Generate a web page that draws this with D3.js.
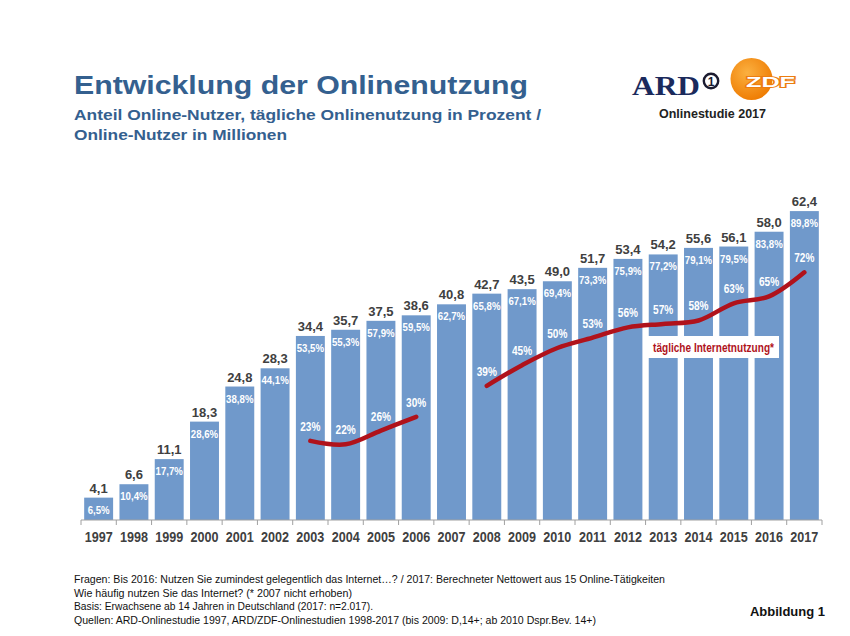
<!DOCTYPE html>
<html><head><meta charset="utf-8">
<script src="https://cdn.jsdelivr.net/npm/d3@7"></script>
<style>
html,body{margin:0;padding:0;background:#fff;}
svg{display:block;}
</style></head>
<body>
<svg id="chart" width="850" height="636"></svg>
<script>
const years = ["1997","1998","1999","2000","2001","2002","2003","2004","2005","2006","2007","2008","2009","2010","2011","2012","2013","2014","2015","2016","2017"];
const usersMillions = ["4,1","6,6","11,1","18,3","24,8","28,3","34,4","35,7","37,5","38,6","40,8","42,7","43,5","49,0","51,7","53,4","54,2","55,6","56,1","58,0","62,4"];
const sharePercent = [6.5,10.4,17.7,28.6,38.8,44.1,53.5,55.3,57.9,59.5,62.7,65.8,67.1,69.4,73.3,75.9,77.2,79.1,79.5,83.8,89.8];
const dailyUse = [null,null,null,null,null,null,23,22,26,30,null,39,45,50,53,56,57,58,63,65,72];
const footerLines = [
  "Fragen: Bis 2016: Nutzen Sie zumindest gelegentlich das Internet…?  / 2017: Berechneter Nettowert aus 15 Online-Tätigkeiten",
  "Wie häufig nutzen Sie das Internet? (* 2007 nicht erhoben)",
  "Basis: Erwachsene ab 14 Jahren in Deutschland (2017: n=2.017).",
  "Quellen: ARD-Onlinestudie 1997, ARD/ZDF-Onlinestudien 1998-2017 (bis 2009: D,14+; ab 2010 Dspr.Bev. 14+)"
];

const svg = d3.select("#chart");
const fmtPct = v => String(v).replace(".", ",") + "%";
const sans = "'Liberation Sans',Arial,sans-serif";
const NARROW = 0.84;

// Title
svg.append("text").attr("x",74).attr("y",94).attr("font-family",sans).attr("font-weight","bold")
  .attr("font-size",25).attr("fill","#34608f").attr("textLength",454).attr("lengthAdjust","spacingAndGlyphs")
  .text("Entwicklung der Onlinenutzung");
svg.append("text").attr("x",74).attr("y",119.5).attr("font-family",sans).attr("font-weight","bold")
  .attr("font-size",14).attr("fill","#34608f").attr("textLength",467).attr("lengthAdjust","spacingAndGlyphs")
  .text("Anteil Online-Nutzer, tägliche Onlinenutzung in Prozent /");
svg.append("text").attr("x",74).attr("y",139.5).attr("font-family",sans).attr("font-weight","bold")
  .attr("font-size",14).attr("fill","#34608f").attr("textLength",213).attr("lengthAdjust","spacingAndGlyphs")
  .text("Online-Nutzer in Millionen");

// Logo
const logo = svg.append("g");
logo.append("text").attr("x",632).attr("y",94.5).attr("font-family","'Liberation Serif','DejaVu Serif',serif")
  .attr("font-weight","bold").attr("font-size",27).attr("fill","#1b2a5c").attr("textLength",68)
  .attr("lengthAdjust","spacingAndGlyphs").text("ARD");
logo.append("circle").attr("cx",711).attr("cy",81).attr("r",7.2).attr("fill","#fff").attr("stroke","#1b1b30").attr("stroke-width",2.4);
logo.append("text").attr("x",711).attr("y",85.5).attr("text-anchor","middle").attr("font-family",sans)
  .attr("font-weight","bold").attr("font-size",12).attr("fill","#1b1b30").text("1");
const grad = svg.append("defs").append("radialGradient").attr("id","zdfg").attr("cx","40%").attr("cy","35%").attr("r","70%");
grad.append("stop").attr("offset","0%").attr("stop-color","#fbb040");
grad.append("stop").attr("offset","100%").attr("stop-color","#ee7a00");
logo.append("circle").attr("cx",751.5).attr("cy",79).attr("r",21).attr("fill","url(#zdfg)");
logo.append("text").attr("x",746).attr("y",87).attr("font-family",sans).attr("font-weight","bold")
  .attr("font-size",14).attr("fill","#fff").attr("stroke","#ec7d10").attr("stroke-width",2)
  .attr("paint-order","stroke").attr("textLength",49).attr("lengthAdjust","spacingAndGlyphs").text("ZDF");
logo.append("text").attr("x",712.5).attr("y",118).attr("text-anchor","middle").attr("font-family",sans)
  .attr("font-weight","bold").attr("font-size",12.5).attr("fill","#222").text("Onlinestudie 2017");

// Scales
const x = d3.scaleBand().domain(years).range([81,822]).paddingInner(0.18).paddingOuter(0.09);
const y = d3.scaleLinear().domain([0,100]).range([520,176]);
const cx = yr => x(yr) + x.bandwidth()/2;

const data = years.map((yr,i)=>({year:yr, users:usersMillions[i], pct:sharePercent[i], daily:dailyUse[i]}));

function narrowText(sel, fx, fy){
  return sel.attr("transform",(d,i)=>`translate(${fx(d,i)},${fy(d,i)}) scale(${NARROW},1)`)
    .attr("text-anchor","middle").attr("font-family",sans).attr("font-weight","bold");
}

// Bars
svg.append("g").selectAll("rect").data(data).join("rect")
  .attr("x",d=>x(d.year)).attr("width",x.bandwidth())
  .attr("y",d=>y(d.pct)).attr("height",d=>y(0)-y(d.pct))
  .attr("fill","#7099cb");

// Axis
const axis = svg.append("g").attr("transform","translate(0,520)");
axis.append("line").attr("x1",x.range()[0]).attr("x2",x.range()[1]).attr("stroke","#a0a0a0").attr("stroke-width",1);
const bounds = years.map(yr=>x(yr) - x.step()*x.paddingInner()/2).concat([x.range()[1]]);
axis.selectAll("line.tk").data(bounds).join("line").attr("class","tk")
  .attr("x1",d=>d).attr("x2",d=>d).attr("y1",0).attr("y2",5).attr("stroke","#a0a0a0");
narrowText(axis.selectAll("text").data(years).join("text"), d=>cx(d), ()=>21.5)
  .attr("font-size",15).attr("fill","#404040").text(d=>d);

// Value labels above bars
svg.append("g").selectAll("text").data(data).join("text")
  .attr("x",d=>cx(d.year)).attr("y",d=>y(d.pct)-5).attr("text-anchor","middle")
  .attr("font-family",sans).attr("font-weight","bold").attr("font-size",13).attr("fill","#404040")
  .text(d=>d.users);
// Percent labels inside bars
narrowText(svg.append("g").selectAll("text").data(data).join("text"), d=>cx(d.year), d=>y(d.pct)+16)
  .attr("font-size",11.5).attr("fill","#fff").text(d=>fmtPct(d.pct));

// Daily usage line
const line = d3.line().defined(d=>d.daily!=null)
  .x(d=>cx(d.year)).y(d=>y(d.daily)).curve(d3.curveCatmullRom.alpha(0.5));
svg.append("path").datum(data).attr("d",line).attr("fill","none")
  .attr("stroke","#b0121b").attr("stroke-width",4.5).attr("stroke-linecap","round");
narrowText(svg.append("g").selectAll("text").data(data.filter(d=>d.daily!=null)).join("text"),
    d=>cx(d.year), d=>y(d.daily)-10)
  .attr("font-size",12).attr("fill","#fff").text(d=>d.daily+"%");

// Legend box
svg.append("rect").attr("x",648).attr("y",336).attr("width",131).attr("height",22).attr("fill","#fff");
svg.append("text").attr("transform",`translate(713.5,352) scale(${NARROW},1)`).attr("text-anchor","middle")
  .attr("font-family",sans).attr("font-weight","bold").attr("font-size",12).attr("fill","#b0121b")
  .text("tägliche Internetnutzung*");

// Footer
const footEnds = [665, 352, 373, 596];
svg.append("g").selectAll("text").data(footerLines).join("text")
  .attr("x",74).attr("y",(d,i)=>583+i*13.5).attr("font-family",sans).attr("font-size",11).attr("fill","#111")
  .attr("textLength",(d,i)=>footEnds[i]-74).attr("lengthAdjust","spacingAndGlyphs")
  .text(d=>d);
svg.append("text").attr("x",825).attr("y",616).attr("text-anchor","end").attr("font-family",sans)
  .attr("font-weight","bold").attr("font-size",13).attr("fill","#111").text("Abbildung 1");
</script>
</body></html>
